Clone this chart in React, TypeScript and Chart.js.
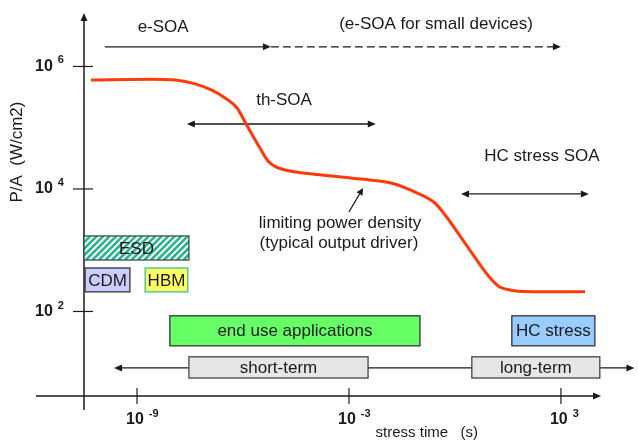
import { useEffect, useRef } from "react";
import { Chart, registerables } from "chart.js";

Chart.register(...registerables);

// Limiting power density of a typical output driver vs. stress time
const stressTime = [
  5.0e-11, 2.3e-9, 1.2e-8, 4.4e-8, 1.32e-7, 3.1e-7, 6.8e-7, 1.15e-6, 3.0e-6, 5.1e-6,
  8.5e-6, 2.14e-5, 1.5e-4, 2.2e-3, 0.0145, 0.089, 0.27, 0.52, 1.9, 9.8, 18.6, 36, 60, 525, 4800,
];
const powerDensity = [
  6.0e5, 6.2e5, 6.0e5, 5.2e5, 4.1e5, 3.06e5, 2.1e5, 1.23e5, 4.7e4, 2.87e4,
  2.3e4, 1.97e4, 1.7e4, 1.45e4, 1.26e4, 8500, 5900, 3800, 1320, 355, 251, 224, 214, 209, 209,
];

// Axis ranges (s and W/cm2)
const X_MIN = 3.16e-11;
const X_MAX = 1.36e4;
const Y_MIN = 4.17;
const Y_MAX = 7.46e6;

// Decade ticks
const xTicks = [1e-9, 1e-3, 1e3];
const xTickExp = ["-9", "-3", "3"];
const yTicks = [1e2, 1e4, 1e6];
const yTickExp = ["2", "4", "6"];

// Stress regimes: time span (s) and band in P/A (W/cm2)
const boxLabels = ["ESD", "CDM", "HBM", "end use applications", "HC stress", "short-term", "long-term"];
const boxStart = [3.16e-11, 3.39e-11, 1.7e-9, 8.5e-9, 40.7, 2.95e-8, 3.0];
const boxEnd = [2.95e-8, 6.3e-10, 2.75e-8, 0.102, 9120, 3.47e-3, 12600];
const boxLow = [692, 209, 209, 27.5, 27.5, 8.2, 8.2];
const boxHigh = [1710, 513, 513, 85, 85, 18.2, 18.2];

// Safe operating area ranges
const soaLabels = ["e-SOA", "(e-SOA for small devices)", "th-SOA", "HC stress SOA"];
const soaStart = [1.23e-10, 6.17e-6, 2.57e-8, 1.48];
const soaEnd = [6.17e-6, 1000, 5.75e-3, 6170];
const soaLevel = [2.09e6, 2.09e6, 1.15e5, 8300];
const soaLabelTime = [5.5e-9, 0.29, 1.45e-5, 290];
const soaLabelLevel = [4.3e6, 4.8e6, 2.75e5, 3.45e4];

// Stress-time line under the short/long-term boxes
const timelineStart = 2.24e-10;
const timelineEnd = 1.2e5;
const timelineLevel = 12;

const FONT = '"Liberation Sans", Arial, Helvetica, sans-serif';
const INK = "#1a1a1a";

type Box = { fill: string; stroke: string; hatch?: string };
const boxStyles: Box[] = [
  { fill: "#ffffff", stroke: "#2f4f45", hatch: "#2bb38f" },
  { fill: "#ccccff", stroke: "#333333" },
  { fill: "#ffff66", stroke: "#33c2a0" },
  { fill: "#66ff66", stroke: "#333333" },
  { fill: "#99ccff", stroke: "#333333" },
  { fill: "#e6e6e6", stroke: "#444444" },
  { fill: "#e6e6e6", stroke: "#444444" },
];

function arrowHead(ctx: CanvasRenderingContext2D, x: number, y: number, dx: number, dy: number, len = 8, half = 3.5) {
  const n = Math.hypot(dx, dy) || 1;
  const ux = dx / n;
  const uy = dy / n;
  ctx.beginPath();
  ctx.moveTo(x, y);
  ctx.lineTo(x - ux * len - uy * half, y - uy * len + ux * half);
  ctx.lineTo(x - ux * len + uy * half, y - uy * len - ux * half);
  ctx.closePath();
  ctx.fill();
}

function line(ctx: CanvasRenderingContext2D, x1: number, y1: number, x2: number, y2: number) {
  ctx.beginPath();
  ctx.moveTo(x1, y1);
  ctx.lineTo(x2, y2);
  ctx.stroke();
}

function text(ctx: CanvasRenderingContext2D, s: string, x: number, y: number, size = 17, weight = "normal", align: CanvasTextAlign = "center") {
  ctx.font = `${weight} ${size}px ${FONT}`;
  ctx.textAlign = align;
  ctx.textBaseline = "middle";
  ctx.fillStyle = INK;
  ctx.fillText(s, x, y);
}

function power(ctx: CanvasRenderingContext2D, left: number, y: number, exp: string) {
  ctx.font = `bold 16px ${FONT}`;
  ctx.textAlign = "left";
  ctx.textBaseline = "middle";
  ctx.fillStyle = INK;
  ctx.fillText("10", left, y);
  const w = ctx.measureText("10").width;
  ctx.font = `bold 11px ${FONT}`;
  ctx.fillText(exp, left + w + 5, y - 6);
}

const diagramPlugin = {
  id: "diagram",
  beforeDatasetsDraw(chart: Chart) {
    const ctx = chart.ctx;
    const xs = chart.scales.x;
    const ys = chart.scales.y;
    const px = (v: number) => xs.getPixelForValue(v);
    const py = (v: number) => ys.getPixelForValue(v);
    const ax = px(X_MIN);
    const ay = py(Y_MIN);
    ctx.save();

    // axes
    ctx.strokeStyle = INK;
    ctx.fillStyle = INK;
    ctx.lineWidth = 1.5;
    line(ctx, ax, ay + 14, ax, py(Y_MAX) + 6);
    arrowHead(ctx, ax, py(Y_MAX), 0, -1);
    line(ctx, ax - 48, ay, px(X_MAX) - 6, ay);
    arrowHead(ctx, px(X_MAX), ay, 1, 0);

    ctx.lineWidth = 1.2;
    xTicks.forEach((t, i) => {
      const x = px(t);
      line(ctx, x, ay - 8, x, ay + 8);
      power(ctx, x - 11, ay + 24, xTickExp[i]);
    });
    yTicks.forEach((v, i) => {
      const y = py(v);
      line(ctx, ax - 11, y, ax + 9, y);
      power(ctx, ax - 49, y, yTickExp[i]);
    });

    // axis titles
    text(ctx, "stress time   (s)", px(0.16), ay + 37, 15, "normal");
    ctx.save();
    ctx.translate(ax - 67, py(4e4));
    ctx.rotate(-Math.PI / 2);
    text(ctx, "P/A  (W/cm2)", 0, 0, 17, "normal");
    ctx.restore();

    // SOA arrows
    ctx.lineWidth = 1.3;
    ctx.strokeStyle = INK;
    ctx.fillStyle = INK;
    soaLabels.forEach((lab, i) => {
      const x1 = px(soaStart[i]);
      const x2 = px(soaEnd[i]);
      const y = py(soaLevel[i]);
      const dashed = i === 1;
      const double = i >= 2;
      ctx.setLineDash(dashed ? [8, 4] : []);
      line(ctx, double ? x1 + 5 : x1, y, x2 - 5, y);
      ctx.setLineDash([]);
      arrowHead(ctx, x2, y, 1, 0);
      if (double) arrowHead(ctx, x1, y, -1, 0);
      text(ctx, lab, px(soaLabelTime[i]), py(soaLabelLevel[i]), 17);
    });

    // stress time line
    {
      const y = py(timelineLevel);
      const x1 = px(timelineStart);
      const x2 = px(timelineEnd);
      line(ctx, x1 + 5, y, x2 - 5, y);
      arrowHead(ctx, x1, y, -1, 0);
      arrowHead(ctx, x2, y, 1, 0);
    }

    // regime boxes
    boxLabels.forEach((lab, i) => {
      const x1 = px(boxStart[i]);
      const x2 = px(boxEnd[i]);
      const y1 = py(boxHigh[i]);
      const y2 = py(boxLow[i]);
      const st = boxStyles[i];
      ctx.fillStyle = st.fill;
      ctx.fillRect(x1, y1, x2 - x1, y2 - y1);
      if (st.hatch) {
        ctx.save();
        ctx.beginPath();
        ctx.rect(x1, y1, x2 - x1, y2 - y1);
        ctx.clip();
        ctx.strokeStyle = st.hatch;
        ctx.lineWidth = 2.6;
        const h = y2 - y1;
        for (let x = x1 - h; x < x2 + h; x += 6.5) {
          line(ctx, x, y2, x + h, y1);
        }
        ctx.restore();
      }
      ctx.strokeStyle = st.stroke;
      ctx.lineWidth = 1.3;
      ctx.strokeRect(x1, y1, x2 - x1, y2 - y1);
      text(ctx, lab, (x1 + x2) / 2, (y1 + y2) / 2 + 1, 17);
    });

    // curve annotation
    ctx.strokeStyle = INK;
    ctx.fillStyle = INK;
    ctx.lineWidth = 1.3;
    {
      const x1 = px(1e-3), y1 = py(4200);
      const x2 = px(2.5e-3), y2 = py(1.04e4);
      line(ctx, x1, y1, x2 - (x2 - x1) * 0.25, y2 - (y2 - y1) * 0.25);
      arrowHead(ctx, x2, y2, x2 - x1, y2 - y1, 7, 3.5);
      text(ctx, "limiting power density", px(5.6e-4), py(2790), 17);
      text(ctx, "(typical output driver)", px(5.2e-4), py(1320), 17);
    }

    ctx.restore();
  },
};

export default function App() {
  const ref = useRef<HTMLCanvasElement | null>(null);

  useEffect(() => {
    if (!ref.current) return;
    const chart = new Chart(ref.current, {
      type: "scatter",
      data: {
        datasets: [
          {
            data: stressTime.map((t, i) => ({ x: t, y: powerDensity[i] })),
            showLine: true,
            borderColor: "#ff3a0a",
            borderWidth: 3,
            pointRadius: 0,
            cubicInterpolationMode: "monotone",
            fill: false,
          },
        ],
      },
      options: {
        animation: false,
        responsive: false,
        devicePixelRatio: 1,
        layout: { padding: { left: 84, right: 37, top: 13, bottom: 44 } },
        plugins: { legend: { display: false }, tooltip: { enabled: false } },
        scales: {
          x: { type: "logarithmic", min: X_MIN, max: X_MAX, display: false },
          y: { type: "logarithmic", min: Y_MIN, max: Y_MAX, display: false },
        },
      },
      plugins: [diagramPlugin],
    });
    return () => chart.destroy();
  }, []);

  return (
    <div style={{ position: "fixed", left: 0, top: 0, width: 638, height: 440, background: "#fff" }}>
      <canvas ref={ref} width={638} height={440} />
    </div>
  );
}
